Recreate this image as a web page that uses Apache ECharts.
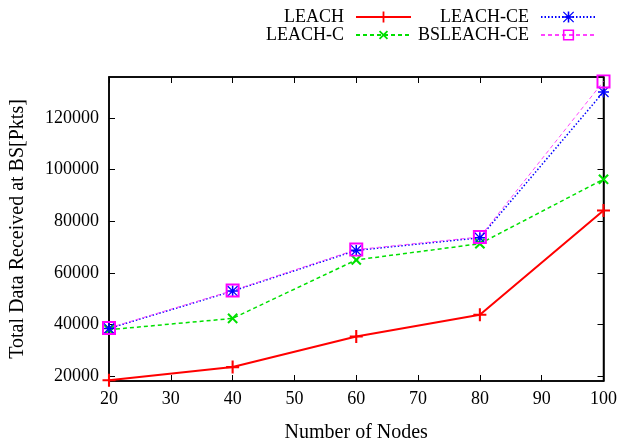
<!DOCTYPE html>
<html>
<head>
<meta charset="utf-8">
<script src="https://cdn.jsdelivr.net/npm/echarts@6/dist/echarts.min.js"></script>
<style>
  html, body { margin: 0; padding: 0; background: #fff; }
  #chart { width: 620px; height: 448px; }
</style>
</head>
<body>
<div id="chart"></div>
<script>
// Node counts on the x axis
const nodes = [20, 40, 60, 80, 100];

// Total packets received at the base station per protocol
const leach      = [18300, 23400, 35300, 43700, 84200];
const leachC     = [37900, 42300, 65000, 71300, 96300];
const leachCE    = [38400, 52900, 68700, 73600, 130200];
const bsleachCE  = [38600, 53100, 69000, 73900, 134300];

// Axis ticks
const xTicks = [20, 30, 40, 50, 60, 70, 80, 90, 100];
const yTicks = [20000, 40000, 60000, 80000, 100000, 120000];

const FONT = 'Liberation Serif';

// Stroke-like marker shapes
const PLUS = 'path://M4.2,0H5.8V4.2H10V5.8H5.8V10H4.2V5.8H0V4.2H4.2Z';
const STAR = 'path://M4.3,0H5.7V4.3H10V5.7H5.7V10H4.3V5.7H0V4.3H4.3Z' +
             'M0,0.8L0.8,0L10,9.2L9.2,10Z' +
             'M9.2,0L10,0.8L0.8,10L0,9.2Z';
const SQUARE = 'path://M0,0H10V10H0Z M1.4,1.4V8.6H8.6V1.4Z';

function pairs(ys) { return nodes.map((x, i) => [x, ys[i]]); }

function legendFor(name, right, top) {
  return {
    data: [name],
    right: right,
    top: top,
    align: 'right',
    orient: 'horizontal',
    itemWidth: 55,
    itemHeight: 14,
    padding: 0,
    selectedMode: false,
    textStyle: { fontFamily: FONT, fontSize: 18, color: '#000', padding: [0, 7, 0, 0] }
  };
}

const chart = echarts.init(document.getElementById('chart'), null, { renderer: 'canvas' });

const tickStyle = { inside: true, length: 6, lineStyle: { color: '#000', width: 1 } };
const plain = v => String(v);

chart.setOption({
  animation: false,
  backgroundColor: '#fff',
  legend: [
    legendFor('LEACH', 208, 8),
    legendFor('LEACH-C', 208, 26),
    legendFor('LEACH-CE', 23, 8),
    legendFor('BSLEACH-CE', 23, 26)
  ],
  grid: {
    left: 108, right: 13, top: 77, bottom: 63,
    show: true, borderColor: '#000', borderWidth: 1.5, backgroundColor: 'transparent'
  },
  xAxis: [{
    type: 'value',
    min: 20, max: 100, interval: 10,
    name: 'Number of Nodes',
    nameLocation: 'middle',
    nameGap: 42,
    nameTextStyle: { fontFamily: FONT, fontSize: 20, color: '#000' },
    axisLine: { show: true, lineStyle: { color: '#000', width: 1.5 } },
    axisTick: Object.assign({ customValues: xTicks }, tickStyle),
    axisLabel: { customValues: xTicks, formatter: plain, fontFamily: FONT, fontSize: 18, color: '#000', margin: 9 },
    splitLine: { show: false }
  }, {
    type: 'value', position: 'top',
    min: 20, max: 100, interval: 10,
    axisLine: { show: true, lineStyle: { color: '#000', width: 1.5 } },
    axisTick: Object.assign({ customValues: xTicks }, tickStyle),
    axisLabel: { show: false },
    splitLine: { show: false }
  }],
  yAxis: [{
    type: 'value',
    min: 18000, max: 136000,
    name: 'Total Data Received at BS[Pkts]',
    nameLocation: 'middle',
    nameGap: 81,
    nameTextStyle: { fontFamily: FONT, fontSize: 20, color: '#000' },
    axisLine: { show: true, lineStyle: { color: '#000', width: 1.5 } },
    axisTick: Object.assign({ customValues: yTicks }, tickStyle),
    axisLabel: { customValues: yTicks, formatter: plain, fontFamily: FONT, fontSize: 18, color: '#000', margin: 10 },
    splitLine: { show: false }
  }, {
    type: 'value', position: 'right',
    min: 18000, max: 136000,
    axisLine: { show: true, lineStyle: { color: '#000', width: 1.5 } },
    axisTick: Object.assign({ customValues: yTicks }, tickStyle),
    axisLabel: { show: false },
    splitLine: { show: false }
  }],
  series: [{
    name: 'LEACH',
    type: 'line',
    data: pairs(leach),
    symbol: PLUS, symbolSize: 13,
    color: '#ff0000',
    lineStyle: { color: '#ff0000', width: 2, type: 'solid' },
    itemStyle: { color: '#ff0000' }
  }, {
    name: 'LEACH-C',
    type: 'line',
    data: pairs(leachC),
    symbol: PLUS, symbolSize: 13, symbolRotate: 45,
    color: '#00e000',
    lineStyle: { color: '#00e000', width: 1.5, type: [4, 3] },
    itemStyle: { color: '#00e000' }
  }, {
    name: 'LEACH-CE',
    type: 'line',
    data: pairs(leachCE),
    symbol: STAR, symbolSize: 11,
    color: '#0000ff',
    lineStyle: { color: '#0000ff', width: 1.5, type: [1.5, 2] },
    itemStyle: { color: '#0000ff' }
  }, {
    name: 'BSLEACH-CE',
    type: 'line',
    data: pairs(bsleachCE),
    symbol: SQUARE, symbolSize: 14,
    color: '#ff00ff',
    lineStyle: { color: '#ff44ff', width: 1, type: [4, 3] },
    itemStyle: { color: '#ff00ff' }
  }]
});
</script>
</body>
</html>
